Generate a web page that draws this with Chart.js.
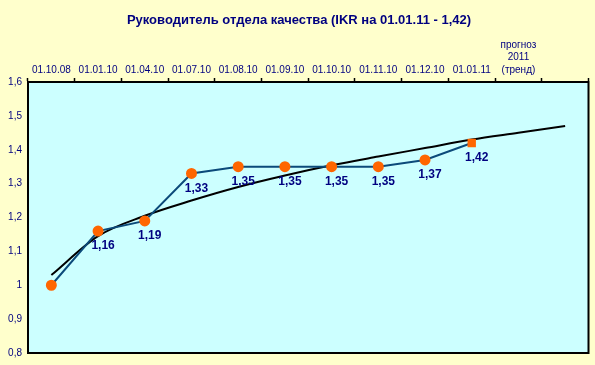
<!DOCTYPE html>
<html>
<head>
<meta charset="utf-8">
<script src="https://cdn.jsdelivr.net/npm/chart.js@4"></script>
<style>
    html, body { margin: 0; padding: 0; background: #FFFFCC; }
    #wrap { width: 595px; height: 365px; }
</style>
</head>
<body>
<div id="wrap"><canvas id="ikrChart" width="595" height="365"></canvas></div>
<script>
const chartTitle = "Руководитель отдела качества (IKR на 01.01.11 - 1,42)";

const categories = [
    "01.10.08", "01.01.10", "01.04.10", "01.07.10", "01.08.10", "01.09.10",
    "01.10.10", "01.11.10", "01.12.10", "01.01.11",
    ["прогноз", "2011", "(тренд)"], ""
];

const ikrValues = [1.00, 1.16, 1.19, 1.33, 1.35, 1.35, 1.35, 1.35, 1.37, 1.42, null, null];

// logarithmic trend
const trendValues = [1.03, 1.145, 1.205, 1.25, 1.29, 1.324, 1.354, 1.38, 1.405, 1.43, 1.45, 1.47];

const yMin = 0.8;
const yMax = 1.6;
const yStep = 0.1;

const navy = "#000080";
const fontFamily = "'Liberation Sans', Arial, sans-serif";

function fmt(v) {
    return String(Number(v.toFixed(2))).replace(".", ",");
}

const plotBox = {
    id: "plotBox",
    beforeDatasetsDraw(chart) {
        const a = chart.chartArea;
        const ctx = chart.ctx;
        ctx.save();
        ctx.fillStyle = "#CCFFFF";
        ctx.fillRect(a.left, a.top, a.right - a.left, a.bottom - a.top);
        ctx.restore();
    },
    afterDatasetsDraw(chart) {
        const a = chart.chartArea;
        const ctx = chart.ctx;
        ctx.save();
        ctx.strokeStyle = "#000000";
        ctx.lineWidth = 2;
        ctx.strokeRect(a.left, a.top, a.right - a.left, a.bottom - a.top);
        ctx.restore();
    }
};

const valueLabels = {
    id: "valueLabels",
    afterDatasetsDraw(chart) {
        const meta = chart.getDatasetMeta(0);
        const ctx = chart.ctx;
        ctx.save();
        ctx.font = "bold 12px " + fontFamily;
        ctx.fillStyle = navy;
        ctx.textAlign = "center";
        ctx.textBaseline = "middle";
        meta.data.forEach((pt, i) => {
            const v = ikrValues[i];
            // the first point has no label in the original
            if (v === null || i === 0) return;
            ctx.fillText(fmt(v), pt.x + 5, pt.y + 15);
        });
        ctx.restore();
    }
};

const titleText = {
    id: "titleText",
    afterDraw(chart) {
        const ctx = chart.ctx;
        ctx.save();
        ctx.font = "bold 13px " + fontFamily;
        ctx.fillStyle = navy;
        ctx.textAlign = "center";
        ctx.textBaseline = "middle";
        ctx.fillText(chartTitle, 299, 20);
        ctx.restore();
    }
};

new Chart(document.getElementById("ikrChart").getContext("2d"), {
    type: "line",
    data: {
        labels: categories,
        datasets: [
            {
                label: "IKR",
                data: ikrValues,
                borderColor: "#0B4A7A",
                borderWidth: 2,
                pointBackgroundColor: "#FF6600",
                pointBorderColor: "#FF6600",
                pointRadius: 4.5,
                pointStyle: ikrValues.map((v, i) => i === 9 ? "rect" : "circle"),
                tension: 0,
                spanGaps: false,
                order: 1
            },
            {
                label: "Тренд",
                data: trendValues,
                borderColor: "#000000",
                borderWidth: 2,
                pointRadius: 0,
                cubicInterpolationMode: "monotone",
                order: 2
            }
        ]
    },
    options: {
        responsive: false,
        animation: false,
        devicePixelRatio: 1,
        layout: {
            padding: { top: 0, left: 0, right: 5, bottom: 11 }
        },
        plugins: {
            legend: { display: false },
            title: { display: false },
            tooltip: { enabled: false }
        },
        scales: {
            x: {
                position: "top",
                offset: true,
                afterFit(scale) { scale.height = 82; },
                grid: {
                    offset: true,
                    drawOnChartArea: false,
                    drawTicks: true,
                    tickLength: 4,
                    tickWidth: 1.5,
                    color: "#000000"
                },
                border: { display: true, color: "#000000", width: 2 },
                ticks: {
                    color: navy,
                    font: { family: fontFamily, size: 10, lineHeight: 1.25 },
                    padding: 2,
                    maxRotation: 0,
                    autoSkip: false
                }
            },
            y: {
                min: yMin,
                max: yMax,
                afterFit(scale) { scale.width = 28; },
                grid: {
                    drawOnChartArea: false,
                    drawTicks: false
                },
                border: { display: true, color: "#000000", width: 2 },
                ticks: {
                    stepSize: yStep,
                    color: navy,
                    padding: 6,
                    font: { family: fontFamily, size: 10 },
                    callback: (v) => fmt(v)
                }
            }
        }
    },
    plugins: [plotBox, valueLabels, titleText]
});
</script>
</body>
</html>
